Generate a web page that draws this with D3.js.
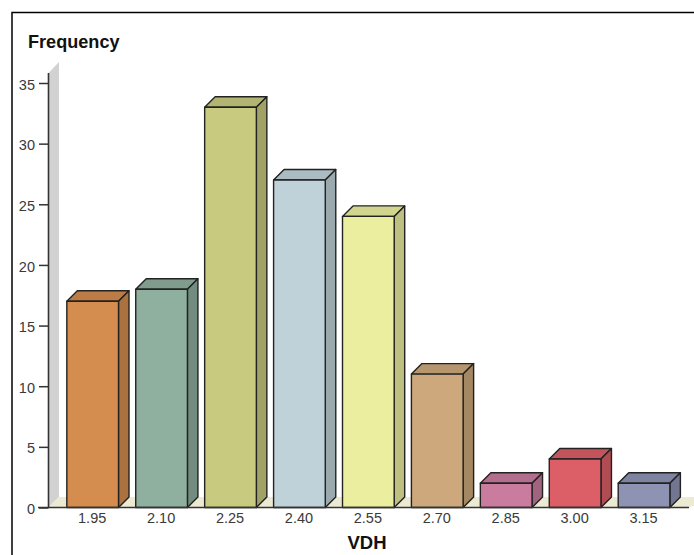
<!DOCTYPE html>
<html>
<head>
<meta charset="utf-8">
<script src="https://cdn.jsdelivr.net/npm/d3@7"></script>
<style>
  html, body { margin: 0; padding: 0; background: #fff; overflow: hidden; }
  text { font-family: "Liberation Sans", Arial, sans-serif; }
</style>
</head>
<body>
<script>
// Frequency histogram of VDH values, drawn as extruded 3D bars.
const categories = ["1.95", "2.10", "2.25", "2.40", "2.55", "2.70", "2.85", "3.00", "3.15"];
const frequencies = [17, 18, 33, 27, 24, 11, 2, 4, 2];
const frontColors = ["#D58D4F", "#8FB09E", "#C7CA7F", "#BFD2D9", "#EBEE9F", "#CCA87C", "#CA7C9F", "#DC5F67", "#8E93B4"];
const topColors   = ["#BD7C45", "#7F9C8C", "#B2B571", "#AABBC1", "#D2D58E", "#B6966E", "#B46E8D", "#C4545B", "#7E83A0"];
const sideColors  = ["#AB723F", "#728D7F", "#A1A366", "#99A9AE", "#BEC080", "#A48763", "#A2637F", "#B04C52", "#727690"];
const yTicks = [0, 5, 10, 15, 20, 25, 30, 35];
const xTitle = "VDH";
const yTitle = "Frequency";

const width = 694, height = 555;
const plotLeft = 48.5, plotBottom = 507.5, plotTop = 83;
const depth = 10.5;
const ink = "#222";

const svg = d3.select("body").append("svg")
  .attr("width", width).attr("height", height)
  .style("display", "block");

const x = d3.scaleBand()
  .domain(categories)
  .range([58.2, 678.5])
  .paddingInner(0.25)
  .paddingOuter(0.125);

const y = d3.scaleLinear().domain([0, 35]).range([plotBottom, plotTop]);

const poly = pts => pts.map(p => p.join(",")).join(" ");

// Outer frame: only the top and left edges sit inside the canvas.
svg.append("path")
  .attr("d", `M12,${height} V12.5 H${width}`)
  .attr("fill", "none").attr("stroke", "#000").attr("stroke-width", 1.5);

// Back wall and floor of the 3D plotting box.
svg.append("polygon")
  .attr("points", poly([
    [plotLeft, y(35) - 10], [plotLeft + depth, y(35) - 21],
    [plotLeft + depth, plotBottom - depth], [plotLeft, plotBottom]
  ]))
  .attr("fill", "#D2D2D2");

svg.append("polygon")
  .attr("points", poly([
    [plotLeft, plotBottom], [plotLeft + depth, plotBottom - depth],
    [width, plotBottom - depth], [width, plotBottom - 2], [689, plotBottom]
  ]))
  .attr("fill", "#ECEAD2");

// Each bar is a front face plus an extruded top and side.
const bars = svg.append("g").selectAll("g")
  .data(categories.map((c, i) => ({ c, v: frequencies[i], i })))
  .join("g")
  .attr("stroke", ink).attr("stroke-width", 1.4).attr("stroke-linejoin", "round");

bars.append("polygon")
  .attr("fill", d => topColors[d.i])
  .attr("points", d => {
    const l = x(d.c), r = l + x.bandwidth(), t = y(d.v);
    return poly([[l, t], [l + depth, t - depth], [r + depth, t - depth], [r, t]]);
  });

bars.append("polygon")
  .attr("fill", d => sideColors[d.i])
  .attr("points", d => {
    const r = x(d.c) + x.bandwidth(), t = y(d.v);
    return poly([[r, t], [r + depth, t - depth], [r + depth, y(0) - depth], [r, y(0)]]);
  });

bars.append("rect")
  .attr("fill", d => frontColors[d.i])
  .attr("x", d => x(d.c))
  .attr("y", d => y(d.v))
  .attr("width", x.bandwidth())
  .attr("height", d => y(0) - y(d.v));

// Value axis
const yAxis = svg.append("g")
  .attr("transform", `translate(${plotLeft},0)`)
  .call(d3.axisLeft(y).tickValues(yTicks).tickSize(9.5).tickPadding(4).tickFormat(d3.format("d")));
yAxis.select(".domain").attr("stroke", "#333").attr("stroke-width", 1.6).attr("d", `M0,${plotTop - 10}V${plotBottom}`);
yAxis.selectAll(".tick line").attr("stroke", "#333").attr("stroke-width", 1.5);
yAxis.selectAll(".tick text").attr("font-size", 14.5).attr("fill", "#3a3a3a").attr("dy", "0.42em")
  .style("font-family", "'Liberation Sans', Arial, sans-serif");

// Category axis
const xAxis = svg.append("g")
  .attr("transform", `translate(-0.5,${plotBottom})`)
  .call(d3.axisBottom(x).tickSize(0).tickPadding(5));
xAxis.select(".domain").attr("stroke", "#333").attr("stroke-width", 1.6).attr("d", `M38.5,0H689.5`);
xAxis.selectAll(".tick text").attr("font-size", 14.5).attr("fill", "#3a3a3a")
  .style("font-family", "'Liberation Sans', Arial, sans-serif");

// Axis titles
svg.append("text").text(yTitle)
  .attr("x", 28).attr("y", 48)
  .attr("font-size", 18.1).attr("font-weight", "bold").attr("fill", "#111");

svg.append("text").text(xTitle)
  .attr("x", 367).attr("y", 549).attr("text-anchor", "middle")
  .attr("font-size", 18.5).attr("font-weight", "bold").attr("fill", "#111");
</script>
</body>
</html>
